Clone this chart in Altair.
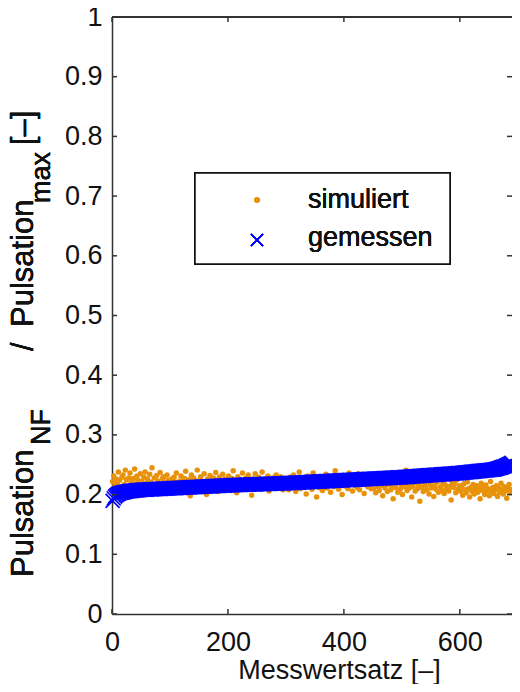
import altair as alt
import pandas as pd

# Index of the measurement set (every 2nd set shown)
messwertsatz = list(range(1, 690, 2))

# simuliert: Pulsation_NF / Pulsation_max in thousandths
simuliert_milli = [
    222, 231, 214, 226, 219, 238, 224, 210, 229, 233, 217, 241, 225, 212, 228,
    236, 220, 209, 227, 243, 218, 231, 224, 214, 235, 222, 207, 229, 238, 219,
    226, 213, 234, 221, 245, 216, 228, 204, 232, 223, 218, 237, 211, 227, 230,
    220, 215, 233, 224, 209,
    218, 226, 211, 229, 221, 236, 214, 204, 223, 231, 217, 209, 227, 239, 220,
    213, 225, 198, 233, 219, 228, 215, 222, 241, 207, 224, 230, 212, 219, 235,
    221, 200, 226, 216, 232, 210, 223, 228, 214, 237, 218, 205, 229, 222, 213,
    234, 220, 226, 208, 217, 231, 224, 211, 227, 240, 216, 222, 203, 230, 219,
    225, 214, 236, 221, 209, 228, 218, 233, 212, 224, 199, 226, 220, 235, 215,
    223, 229, 210, 218, 238, 222, 213, 227, 216, 231, 206, 224, 219, 228, 214,
    221, 233, 217, 225, 211, 230, 219, 208, 226, 222,
    215, 224, 208, 229, 219, 212, 233, 221, 205, 226, 216, 238, 210, 223, 218,
    228, 213, 201, 231, 220, 214, 225, 209, 236, 217, 222, 196, 227, 212, 230,
    219, 207, 224, 216, 234, 211, 221, 229, 204, 218, 226, 213, 240, 215, 222,
    209, 228, 217, 200, 232, 219, 214, 225, 210, 236, 218, 223, 206, 229, 216,
    221, 212, 235, 208, 224, 217, 227, 202, 220, 231, 213, 219, 226, 210, 222,
    210, 218, 203, 224, 213, 207, 229, 215, 198, 220, 211, 226, 205, 217, 222,
    208, 214, 193, 227, 212, 219, 204, 231, 209, 216, 200, 223, 213, 241, 207,
    218, 211, 225, 196, 214, 220, 206, 228, 210, 216, 189, 222, 212, 205, 219,
    214, 208, 230, 201, 217, 211, 224, 197, 215, 209, 221, 204, 226, 213, 207,
    219, 202, 216, 210, 233, 206, 214, 191, 220, 212, 218, 203, 225, 209, 215,
    206, 214, 199, 218, 208, 203, 221, 210, 196, 212, 205, 217, 201, 209, 215,
    204, 211, 193, 219, 207, 213, 200, 216, 206, 210, 198, 222, 205, 212, 202,
    208, 215, 197, 211, 204, 219, 209, 201, 213, 206, 194, 210, 217, 203, 208,
]

# gemessen: sorted measured ratio in ten-thousandths
gemessen_decimilli = [
    1895, 1935, 1965, 1985, 2000, 2012, 2020, 2027, 2033, 2038,
    2042, 2046, 2050, 2053, 2056, 2059, 2062, 2064, 2066, 2068, 2070, 2072, 2074, 2076, 2078,
    2080, 2081, 2082, 2083, 2084, 2085, 2086, 2087, 2088, 2089, 2090, 2091, 2092, 2093, 2094,
    2095, 2096, 2097, 2098, 2099, 2100, 2101, 2102, 2103, 2104,
    2105, 2106, 2107, 2108, 2109, 2110, 2111, 2112, 2113, 2114,
    2115, 2116, 2117, 2118, 2119, 2120, 2121, 2122, 2123, 2124,
    2125, 2126, 2127, 2128, 2129, 2130, 2131, 2132, 2133, 2134,
    2135, 2136, 2137, 2138, 2139, 2140, 2141, 2142, 2143, 2144,
    2145, 2146, 2147, 2148, 2149, 2150, 2151, 2152, 2153, 2154,
    2155, 2156, 2157, 2157, 2158, 2159, 2160, 2160, 2161, 2162,
    2162, 2163, 2164, 2165, 2165, 2166, 2167, 2167, 2168, 2169,
    2170, 2170, 2171, 2172, 2172, 2173, 2174, 2175, 2175, 2176,
    2177, 2177, 2178, 2179, 2180, 2180, 2181, 2182, 2182, 2183,
    2184, 2185, 2185, 2186, 2187, 2187, 2188, 2189, 2189, 2190,
    2191, 2192, 2193, 2194, 2195, 2196, 2197, 2198, 2199, 2200,
    2201, 2202, 2203, 2204, 2205, 2206, 2207, 2208, 2209, 2210,
    2211, 2212, 2213, 2214, 2215, 2216, 2217, 2218, 2219, 2220,
    2221, 2222, 2223, 2224, 2225, 2226, 2227, 2228, 2229, 2230,
    2231, 2232, 2233, 2234, 2235, 2236, 2237, 2238, 2239, 2240,
    2241, 2242, 2243, 2244, 2245, 2246, 2247, 2248, 2249, 2250,
    2251, 2252,
    2253, 2254, 2255, 2256, 2257, 2258, 2259, 2260, 2261, 2262,
    2263, 2264, 2265, 2266, 2267, 2268, 2269, 2270, 2271, 2272,
    2273, 2274, 2275, 2276, 2277, 2278, 2279, 2280, 2281, 2282,
    2283, 2284, 2285, 2286, 2287, 2288, 2289, 2290,
    2291, 2293, 2294, 2296, 2297, 2298, 2300, 2301, 2303, 2304,
    2305, 2307, 2308, 2310, 2311, 2312, 2314, 2315, 2317, 2318,
    2319, 2321, 2322, 2324, 2325, 2326, 2328, 2329, 2331, 2332,
    2333, 2335, 2336, 2338, 2339, 2340, 2342, 2343, 2345, 2346,
    2347, 2349, 2350, 2352, 2353, 2354, 2356, 2357, 2359, 2360,
    2362, 2364, 2366, 2368, 2370, 2372, 2374, 2376, 2378, 2380,
    2382, 2384, 2386, 2388, 2390, 2392, 2394, 2396, 2398, 2400,
    2402, 2404, 2406, 2408, 2410, 2412, 2414, 2416, 2418, 2420,
    2425, 2430, 2435, 2441, 2447, 2453, 2460, 2467, 2474, 2482,
    2490, 2499, 2508, 2518, 2530,
]

x_ticks = [0, 200, 400, 600]
y_ticks = [0, 0.1, 0.2, 0.3, 0.4, 0.5, 0.6, 0.7, 0.8, 0.9, 1.0]
series_names = ["simuliert", "gemessen"]
x_title = "Messwertsatz [–]"

FONT = "Liberation Sans, Arial, Helvetica, sans-serif"
ORANGE = "#E8920B"
BLUE = "#0000FF"
AX = "#333333"
TXT = "#111111"
W, H = 400, 597

sim_df = pd.DataFrame({"x": messwertsatz, "y": [v / 1000 for v in simuliert_milli]})
mes_df = pd.DataFrame({"x": messwertsatz, "y": [v / 10000 for v in gemessen_decimilli]})
xt_df = pd.DataFrame({"x": x_ticks})
yt_df = pd.DataFrame({"y": y_ticks})

xsc = alt.Scale(domain=[0, 690], nice=False, zero=False)
ysc = alt.Scale(domain=[0, 1], nice=False)

x_axis = alt.Axis(values=x_ticks, ticks=False, grid=False, labelFlush=False,
                  labelFontSize=27, labelPadding=15, labelColor=TXT,
                  domainColor=AX, domainWidth=1.5,
                  title=x_title, titleFontSize=27, titleFontWeight="normal",
                  titleColor=TXT, titleX=227, titleY=64,
                  titleBaseline="alphabetic", titleAlign="center")
y_axis = alt.Axis(values=y_ticks, format="~g", ticks=False, grid=False,
                  labelFlush=False, labelFontSize=27, labelPadding=10,
                  labelColor=TXT, domainColor=AX, domainWidth=1.5, title=None)

X = lambda: alt.X("x:Q", scale=xsc, axis=x_axis, title=x_title)
Y = lambda: alt.Y("y:Q", scale=ysc, axis=y_axis, title=None)

sim = alt.Chart(sim_df).mark_circle(size=30, color=ORANGE, opacity=1).encode(x=X(), y=Y())
mes = alt.Chart(mes_df).mark_point(
    shape="M-1,-1L1,1M-1,1L1,-1", size=196, filled=False,
    color=BLUE, strokeWidth=1.7, opacity=1
).encode(x=X(), y=Y())

tick_style = dict(color=AX, strokeWidth=1.5)
left_t = alt.Chart(yt_df).mark_rule(**tick_style).encode(
    y=Y(), x=alt.value(0), x2=alt.value(5))
right_t = alt.Chart(yt_df).mark_rule(**tick_style).encode(
    y=Y(), x=alt.value(W - 5), x2=alt.value(W))
bot_t = alt.Chart(xt_df).mark_rule(**tick_style).encode(
    x=X(), y=alt.value(H - 5), y2=alt.value(H))
top_t = alt.Chart(xt_df).mark_rule(**tick_style).encode(
    x=X(), y=alt.value(0), y2=alt.value(5))
top_line = alt.Chart(xt_df).mark_rule(**tick_style).encode(
    x=alt.value(0), x2=alt.value(W), y=alt.value(0))

# legend box
leg_box = alt.Chart(xt_df).mark_rect(fill="white", stroke=TXT, strokeWidth=1.5).encode(
    x=alt.value(83), x2=alt.value(338), y=alt.value(156), y2=alt.value(247))
leg_dot = alt.Chart(xt_df).mark_circle(size=30, color=ORANGE, opacity=1).encode(
    x=alt.value(145), y=alt.value(183))
leg_x = alt.Chart(xt_df).mark_point(shape="M-1,-1L1,1M-1,1L1,-1", size=144, filled=False,
                                    color=BLUE, strokeWidth=1.5, opacity=1).encode(
    x=alt.value(145), y=alt.value(223))
leg_t1 = alt.Chart(xt_df).mark_text(align="left", baseline="alphabetic", fontSize=27,
                                    font=FONT, color=TXT).encode(
    x=alt.value(196), y=alt.value(191), text=alt.value(series_names[0]))
leg_t2 = alt.Chart(xt_df).mark_text(align="left", baseline="alphabetic", fontSize=27,
                                    font=FONT, color=TXT).encode(
    x=alt.value(196), y=alt.value(229), text=alt.value(series_names[1]))

# y axis title with subscripts
def ypiece(txt, px, py, fs):
    return alt.Chart(xt_df).mark_text(angle=270, align="left", baseline="alphabetic",
                                      fontSize=fs, font=FONT, color=TXT).encode(
        x=alt.value(px), y=alt.value(py), text=alt.value(txt))

ytitle = [
    ypiece("Pulsation", -79, 560, 31),
    ypiece("NF", -62, 428, 27),
    ypiece("/", -79, 334, 31),
    ypiece("Pulsation", -79, 310, 31),
    ypiece("max", -62, 186, 27),
    ypiece("[–]", -79, 128, 31),
]

chart = alt.layer(
    sim, mes, left_t, right_t, bot_t, top_t, top_line,
    leg_box, leg_dot, leg_x, leg_t1, leg_t2, *ytitle
).properties(
    width=W, height=H,
    autosize=alt.AutoSizeParams(type="none"),
    padding={"left": 104, "top": 9, "right": 0, "bottom": 70},
).configure(font=FONT).configure_view(stroke="transparent")

chart.save("out.html", embed_options={"renderer": "svg", "actions": False})
